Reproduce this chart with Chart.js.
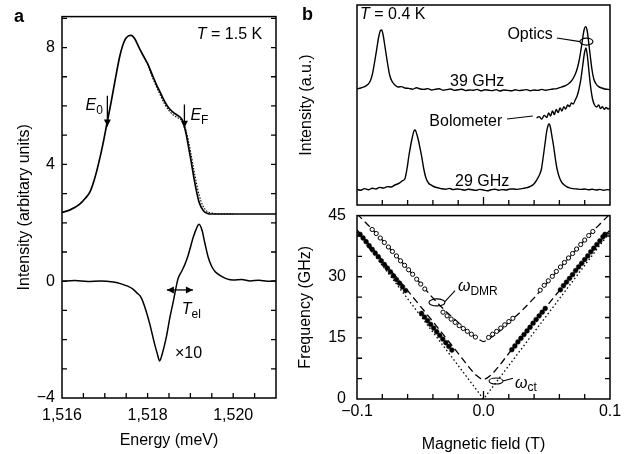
<!DOCTYPE html>
<html>
<head>
<meta charset="utf-8">
<script src="https://cdn.jsdelivr.net/npm/chart.js@4.4.1/dist/chart.umd.min.js"></script>
<style>
  body { margin: 0; background: #fff; }
  #wrap { position: relative; width: 635px; height: 454px; overflow: hidden; background: #fff; }
  canvas { position: absolute; }
</style>
</head>
<body>
<div id="wrap">
  <canvas id="panelA" width="290" height="454" style="left:0;top:0;width:290px;height:454px"></canvas>
  <canvas id="panelBtop" width="345" height="206" style="left:290px;top:0;width:345px;height:206px"></canvas>
  <canvas id="panelBbottom" width="345" height="259" style="left:290px;top:195px;width:345px;height:259px"></canvas>
</div>
<script>
// ---------- panel a : luminescence spectrum (upper) and x10 difference (lower) ----------
var plEnergy = [1516.0, 1516.2, 1516.4, 1516.55, 1516.65, 1516.75, 1516.85, 1516.95, 1517.05, 1517.15,
                1517.25, 1517.35, 1517.45, 1517.55, 1517.62, 1517.7, 1517.8, 1517.9, 1518.0, 1518.1,
                1518.2, 1518.3, 1518.4, 1518.5, 1518.6, 1518.7, 1518.8, 1518.85, 1518.9, 1518.95,
                1519.0, 1519.1, 1519.2, 1519.3, 1519.4, 1519.5, 1519.7, 1520.0, 1520.5, 1521.0];
var plSignal = [2.35, 2.45, 2.62, 2.85, 3.05, 3.45, 4.0, 4.65, 5.4, 6.15,
                6.95, 7.7, 8.2, 8.4, 8.42, 8.3, 8.0, 7.72, 7.45, 7.1,
                6.75, 6.45, 6.15, 5.92, 5.78, 5.68, 5.55, 5.35, 5.05, 4.65,
                4.25, 3.4, 2.72, 2.42, 2.32, 2.3, 2.3, 2.3, 2.3, 2.3];
// dotted fit (only visible where it leaves the measured curve)
var fitEnergy = [1517.9, 1518.0, 1518.1, 1518.2, 1518.3, 1518.4, 1518.5, 1518.6, 1518.7, 1518.8,
                 1518.85, 1518.9, 1518.95, 1519.0, 1519.1, 1519.2, 1519.3, 1519.4, 1519.5, 1519.7, 1520.0];
var fitSignal = [7.72, 7.42, 7.02, 6.68, 6.36, 6.06, 5.84, 5.69, 5.6, 5.5,
                 5.36, 5.14, 4.84, 4.47, 3.67, 2.97, 2.56, 2.38, 2.33, 2.3, 2.3];
var diffEnergy = [1516.0, 1516.3, 1516.6, 1516.9, 1517.2, 1517.4, 1517.55, 1517.65, 1517.75, 1517.85,
                  1517.95, 1518.05, 1518.16, 1518.23, 1518.28, 1518.34, 1518.44, 1518.52, 1518.6, 1518.71,
                  1518.8, 1518.87, 1518.95, 1519.07, 1519.14, 1519.2, 1519.27, 1519.34, 1519.42, 1519.49,
                  1519.58, 1519.69, 1519.85, 1520.0, 1520.2, 1520.4, 1520.6, 1520.8, 1521.0];
var diffSignal = [0, 0.02, -0.01, 0.01, -0.03, -0.1, -0.18, -0.26, -0.4, -0.56,
                  -0.95, -1.46, -2.13, -2.5, -2.73, -2.5, -1.9, -1.25, -0.7, 0.08,
                  0.35, 0.57, 0.9, 1.52, 1.8, 1.95, 1.75, 1.29, 0.8, 0.53,
                  0.32, 0.2, 0.08, 0.04, 0.06, 0.01, 0.03, 0, 0.01];
var energyTickValues = [1516, 1518, 1520];
var energyTickLabels = ['1,516', '1,518', '1,520'];
var intensityTickValues = [-4, 0, 4, 8];
var intensityTickLabels = ['\u22124', '0', '4', '8'];

// ---------- panel b top : resonance traces vs field ----------
var field39 = [-0.1, -0.097, -0.094, -0.0915, -0.0895, -0.0878, -0.0862, -0.0845, -0.083, -0.0815,
               -0.0805, -0.0795, -0.0782, -0.077, -0.0755, -0.074, -0.072, -0.07, -0.0675, -0.065,
               -0.062, -0.059, -0.056, -0.053, -0.05, -0.047, -0.044, -0.041, -0.038, -0.035,
               -0.032, -0.029, -0.026, -0.023, -0.02, -0.017, -0.014, -0.011, -0.008, -0.005,
               -0.002, 0.001, 0.004, 0.007, 0.01, 0.013, 0.016, 0.019, 0.022, 0.025,
               0.028, 0.031, 0.034, 0.037, 0.04, 0.043, 0.046, 0.049, 0.052, 0.055,
               0.058, 0.061, 0.064, 0.067, 0.0695, 0.0715, 0.0735, 0.0752, 0.0768, 0.0782,
               0.0795, 0.0808, 0.082, 0.0832, 0.0845, 0.0858, 0.0872, 0.089, 0.091, 0.0935,
               0.096, 0.0985, 0.1];
var signal39 = [5.80, 5.85, 5.92, 6.02, 6.20, 6.55, 7.10, 7.75, 8.35, 8.72,
                8.75, 8.55, 8.05, 7.55, 6.95, 6.45, 6.15, 6.00, 5.90, 5.92,
                5.85, 5.83, 5.79, 5.86, 5.80, 5.78, 5.82, 5.75, 5.79, 5.81,
                5.74, 5.77, 5.80, 5.73, 5.76, 5.79, 5.72, 5.75, 5.74, 5.78,
                5.71, 5.76, 5.74, 5.72, 5.77, 5.70, 5.75, 5.73, 5.71, 5.76,
                5.72, 5.74, 5.77, 5.71, 5.75, 5.73, 5.78, 5.74, 5.77, 5.80,
                5.82, 5.88, 5.95, 6.05, 6.20, 6.40, 6.70, 7.10, 7.65, 8.25,
                8.75, 8.92, 8.70, 8.10, 7.40, 6.75, 6.30, 6.05, 5.92, 5.85,
                5.80, 5.78, 5.76];
var fieldBolo = [0.042, 0.044, 0.046, 0.048, 0.05, 0.0515, 0.053, 0.0545, 0.056, 0.0575,
                 0.059, 0.0605, 0.062, 0.0635, 0.065, 0.0665, 0.068, 0.0695, 0.071, 0.0725,
                 0.074, 0.0755, 0.077, 0.0785, 0.0798, 0.081, 0.0822, 0.0835, 0.0848, 0.0862,
                 0.0878, 0.0895, 0.091, 0.0925, 0.094, 0.0955, 0.097, 0.0985, 0.1];
var signalBolo = [4.35, 4.42, 4.30, 4.48, 4.38, 4.60, 4.45, 4.70, 4.52, 4.78,
                  4.62, 4.85, 4.70, 4.92, 4.80, 5.00, 4.92, 5.10, 5.05, 5.25,
                  5.45, 5.80, 6.30, 7.00, 7.60, 7.85, 7.40, 6.60, 5.85, 5.30,
                  5.00, 4.90, 5.00, 4.82, 4.92, 4.78, 4.88, 4.80, 4.86];
var field29 = [-0.1, -0.097, -0.094, -0.091, -0.088, -0.085, -0.082, -0.079, -0.076, -0.073,
               -0.07, -0.068, -0.066, -0.064, -0.0622, -0.0605, -0.059, -0.0575, -0.0562, -0.055,
               -0.054, -0.0528, -0.0515, -0.0502, -0.0488, -0.0472, -0.0455, -0.0435, -0.041, -0.0385,
               -0.036, -0.033, -0.03, -0.027, -0.024, -0.021, -0.018, -0.015, -0.012, -0.009,
               -0.006, -0.003, 0, 0.003, 0.006, 0.009, 0.012, 0.015, 0.018, 0.021,
               0.024, 0.027, 0.03, 0.033, 0.036, 0.0385, 0.0405, 0.0425, 0.0442, 0.0458,
               0.0472, 0.0487, 0.05, 0.0512, 0.052, 0.053, 0.0542, 0.0554, 0.0566, 0.058,
               0.0596, 0.0614, 0.0634, 0.0656, 0.068, 0.071, 0.074, 0.077, 0.08, 0.083,
               0.086, 0.089, 0.092, 0.095, 0.098, 0.1];
var signal29 = [0.78, 0.74, 0.82, 0.76, 0.84, 0.80, 0.88, 0.85, 0.92, 0.90,
                1.00, 1.05, 1.12, 1.22, 1.30, 1.80, 2.45, 3.00, 3.40, 3.70,
                3.75, 3.55, 3.25, 2.85, 2.40, 1.80, 1.35, 1.10, 0.98, 0.90,
                0.86, 0.81, 0.79, 0.83, 0.77, 0.80, 0.78, 0.74, 0.79, 0.76,
                0.73, 0.78, 0.75, 0.71, 0.76, 0.79, 0.74, 0.77, 0.75, 0.80,
                0.80, 0.78, 0.82, 0.85, 0.90, 0.98, 1.10, 1.30, 1.50, 1.80,
                2.40, 3.10, 3.70, 4.00, 4.05, 3.85, 3.40, 2.95, 2.40, 1.85,
                1.45, 1.18, 1.02, 0.92, 0.86, 0.82, 0.80, 0.78, 0.80, 0.76,
                0.79, 0.75, 0.78, 0.74, 0.77, 0.75];

// ---------- panel b bottom : resonance frequency vs field ----------
var dmrField = [-0.088, -0.0848, -0.0816, -0.0784, -0.0752, -0.072, -0.0688, -0.0656, -0.0624, -0.0592,
                -0.056, -0.0528, -0.0496, -0.0464,
                -0.032, -0.0288, -0.0256, -0.0224, -0.0192, -0.016, -0.0128, -0.0096, -0.0064,
                0.004, 0.0072, 0.0104, 0.0136, 0.0168, 0.02, 0.0232,
                0.0448, 0.048, 0.0512, 0.0544, 0.0576, 0.0608, 0.064, 0.0672, 0.0704, 0.0736,
                0.0768, 0.08, 0.0832, 0.0864];
var dmrFreq = [41.6, 40.6, 39.5, 38.4, 37.3, 36.2, 35.1, 33.9, 32.8, 31.7,
               30.6, 29.4, 28.2, 27.0,
               21.3, 20.4, 19.6, 18.8, 18.0, 17.3, 16.6, 15.9, 15.2,
               15.1, 15.9, 16.6, 17.4, 18.2, 19.0, 19.8,
               26.7, 27.9, 29.0, 30.1, 31.3, 32.4, 33.5, 34.6, 35.7, 36.8,
               37.9, 39.0, 40.1, 41.1];
var ctField = [-0.0976, -0.0952, -0.0928, -0.0904, -0.088, -0.0856, -0.0832, -0.0808, -0.0784, -0.076,
               -0.0736, -0.0712, -0.0688, -0.0664, -0.064, -0.0616,
               -0.049, -0.0466, -0.0442, -0.0418, -0.0394, -0.037, -0.0346, -0.0322, -0.0298, -0.0274, -0.025,
               0.0224, 0.0248, 0.0272, 0.0296, 0.032, 0.0344, 0.0368, 0.0392, 0.0416, 0.044, 0.0464, 0.0488,
               0.0608, 0.0632, 0.0656, 0.068, 0.0704, 0.0728, 0.0752, 0.0776, 0.08, 0.0824,
               0.0848, 0.0872, 0.0896, 0.092, 0.0944, 0.096];
var ctFreq = [40.4, 39.5, 38.6, 37.6, 36.7, 35.8, 34.9, 33.9, 33.0, 32.1,
              31.2, 30.2, 29.3, 28.4, 27.5, 26.6,
              21.0, 20.1, 19.2, 18.3, 17.4, 16.5, 15.6, 14.7, 13.8, 12.9, 12.0,
              12.1, 13.0, 14.0, 14.9, 15.8, 16.7, 17.6, 18.6, 19.5, 20.4, 21.3, 22.2,
              26.8, 27.8, 28.7, 29.6, 30.5, 31.5, 32.4, 33.3, 34.2, 35.1,
              36.1, 37.0, 37.9, 38.8, 39.8, 40.4];
var dmrFitField = [-0.1, -0.09, -0.08, -0.07, -0.06, -0.05, -0.04, -0.03, -0.02, -0.015, -0.01, -0.005, 0,
                   0.005, 0.01, 0.015, 0.02, 0.03, 0.04, 0.05, 0.06, 0.07, 0.08, 0.09, 0.1];
var dmrFitFreq = [45.4, 42.3, 39.0, 35.5, 32.0, 28.4, 24.8, 21.6, 18.8, 17.3, 16.0, 14.9, 14.1,
                  14.9, 16.0, 17.3, 18.8, 21.6, 24.8, 28.4, 32.0, 35.5, 39.0, 42.3, 45.4];
var ctFitField = [-0.1, -0.09, -0.08, -0.07, -0.06, -0.05, -0.04, -0.03, -0.02, -0.012, -0.006, 0,
                  0.006, 0.012, 0.02, 0.03, 0.04, 0.05, 0.06, 0.07, 0.08, 0.09, 0.1];
var ctFitFreq = [41.5, 37.8, 34.0, 30.3, 26.6, 22.8, 19.0, 15.1, 11.2, 8.0, 5.9, 4.8,
                 5.9, 8.0, 11.2, 15.1, 19.0, 22.8, 26.6, 30.3, 34.0, 37.8, 41.5];
var bareField = [-0.1, 0, 0.1];
var bareFreq = [41.0, 0, 41.0];
var fieldTickValues = [-0.1, 0, 0.1];
var fieldTickLabels = ['\u22120.1', '0.0', '0.1'];
var freqTickValues = [0, 15, 30, 45];
var freqTickLabels = ['0', '15', '30', '45'];

// ---------- helpers ----------
var FAMILY = 'Liberation Sans';
var font16 = { family: FAMILY, size: 16 };

function xy(xs, ys) {
    return xs.map(function (x, i) { return { x: x, y: ys[i] }; });
}

function pickLabel(values, labels) {
    return function (v) {
        var i = values.findIndex(function (t) { return Math.abs(t - v) < 1e-9; });
        return i < 0 ? '' : labels[i];
    };
}

function frame(chart) {
    var a = chart.chartArea, ctx = chart.ctx;
    ctx.lineWidth = 1.5;
    ctx.strokeStyle = '#000';
    ctx.strokeRect(a.left, a.top, a.right - a.left, a.bottom - a.top);
}

// inward tick marks, every step of the axis, placed through the scale
function tickMarks(chart, id, sides, len, zeroLen) {
    var ctx = chart.ctx, a = chart.chartArea, s = chart.scales[id];
    var step = s.options.ticks.stepSize;
    var n0 = Math.ceil(s.min / step - 1e-6), n1 = Math.floor(s.max / step + 1e-6);
    ctx.lineWidth = 1.3;
    ctx.strokeStyle = '#000';
    ctx.beginPath();
    for (var n = n0; n <= n1; n++) {
        var v = n * step;
        if (Math.abs(v - s.min) < 1e-9 || Math.abs(v - s.max) < 1e-9) continue;
        var p = s.getPixelForValue(v);
        var l = (zeroLen && n === 0) ? zeroLen : len;
        sides.forEach(function (side) {
            if (side === 'left') { ctx.moveTo(a.left, p); ctx.lineTo(a.left + l, p); }
            if (side === 'right') { ctx.moveTo(a.right, p); ctx.lineTo(a.right - l, p); }
            if (side === 'bottom') { ctx.moveTo(p, a.bottom); ctx.lineTo(p, a.bottom - l); }
        });
    }
    ctx.stroke();
}

function fontFor(st) {
    return (st.indexOf('i') >= 0 ? 'italic ' : '') + (st.indexOf('b') >= 0 ? 'bold ' : '') +
        (st.indexOf('s') >= 0 ? 12 : (st.indexOf('b') >= 0 ? 18 : 16)) + 'px "' + FAMILY + '"';
}

// text with italic / subscript parts
function rich(ctx, x, y, parts, align) {
    var w = 0;
    parts.forEach(function (p) { ctx.font = fontFor(p[1]); w += ctx.measureText(p[0]).width; });
    if (align === 'center') x -= w / 2;
    if (align === 'right') x -= w;
    ctx.textAlign = 'left';
    ctx.textBaseline = 'middle';
    ctx.fillStyle = '#000';
    parts.forEach(function (p) {
        ctx.font = fontFor(p[1]);
        ctx.fillText(p[0], x, p[1].indexOf('s') >= 0 ? y + 5 : y);
        x += ctx.measureText(p[0]).width;
    });
}

function head(ctx, x, y, dx, dy) {
    var n = Math.hypot(dx, dy), L = 7, W = 3.5;
    dx /= n; dy /= n;
    ctx.beginPath();
    ctx.moveTo(x, y);
    ctx.lineTo(x - dx * L - dy * W, y - dy * L + dx * W);
    ctx.lineTo(x - dx * L + dy * W, y - dy * L - dx * W);
    ctx.closePath();
    ctx.fill();
}

function arrow(ctx, x1, y1, x2, y2, both) {
    ctx.lineWidth = 1.3;
    ctx.strokeStyle = '#000';
    ctx.fillStyle = '#000';
    ctx.beginPath(); ctx.moveTo(x1, y1); ctx.lineTo(x2, y2); ctx.stroke();
    head(ctx, x2, y2, x2 - x1, y2 - y1);
    if (both) head(ctx, x1, y1, x1 - x2, y1 - y2);
}

function loop(ctx, cx, cy, rx, ry, x1, y1, x2, y2) {
    ctx.lineWidth = 1.1;
    ctx.strokeStyle = '#000';
    ctx.beginPath();
    ctx.ellipse(cx, cy, rx, ry, 0, 0, Math.PI * 2);
    ctx.moveTo(x1, y1);
    ctx.lineTo(x2, y2);
    ctx.stroke();
}

function lineSet(xs, ys, width, dash, straight) {
    var set = {
        data: xy(xs, ys), borderColor: '#000', borderWidth: width, borderDash: dash || [],
        pointRadius: 0, fill: false
    };
    if (straight) set.tension = 0;
    else set.cubicInterpolationMode = 'monotone';
    return set;
}

var baseOptions = {
    responsive: false,
    animation: false,
    events: [],
    plugins: { legend: { display: false }, tooltip: { enabled: false } }
};

function options(extra) {
    return Object.assign({}, baseOptions, extra);
}

// ---------- panel a ----------
var decoA = {
    id: 'decoA',
    afterDraw: function (chart) {
        var ctx = chart.ctx, sx = chart.scales.x, sy = chart.scales.y;
        function X(v) { return sx.getPixelForValue(v); }
        function Y(v) { return sy.getPixelForValue(v); }
        ctx.save();
        frame(chart);
        tickMarks(chart, 'y', ['left', 'right'], 5);
        tickMarks(chart, 'x', ['bottom'], 5);
        rich(ctx, X(1519.15), Y(8.46), [['T', 'i'], [' = 1.5 K', '']]);
        rich(ctx, X(1516.55), Y(6.0), [['E', 'i'], ['0', 's']]);
        arrow(ctx, X(1517.06), Y(6.35), X(1517.06), Y(5.3));
        rich(ctx, X(1519.0), Y(5.67), [['E', 'i'], ['F', 's']]);
        arrow(ctx, X(1518.86), Y(6.05), X(1518.86), Y(5.25));
        arrow(ctx, X(1518.45), Y(-0.3), X(1519.06), Y(-0.3), true);
        rich(ctx, X(1518.8), Y(-0.98), [['T', 'i'], ['el', 's']]);
        rich(ctx, X(1518.64), Y(-2.47), [['\u00d710', '']]);
        rich(ctx, 14, 17, [['a', 'b']]);
        ctx.restore();
    }
};

new Chart(document.getElementById('panelA'), {
    type: 'line',
    data: {
        datasets: [
            lineSet(plEnergy, plSignal, 1.7),
            lineSet(fitEnergy, fitSignal, 1.1, [1.5, 1.5]),
            lineSet(diffEnergy, diffSignal, 1.5)
        ]
    },
    options: options({
        layout: { padding: { left: 0, top: 5, right: 14, bottom: 0 } },
        scales: {
            x: {
                type: 'linear', min: 1516, max: 1521,
                grid: { display: false, drawTicks: false }, border: { display: false },
                ticks: { stepSize: 0.5, autoSkip: false, maxRotation: 0, padding: 8, color: '#000', font: font16,
                         callback: pickLabel(energyTickValues, energyTickLabels) },
                title: { display: true, text: 'Energy (meV)', color: '#000', font: font16, padding: { top: 0, bottom: 4 } },
                afterFit: function (s) { s.height = 56; }
            },
            y: {
                type: 'linear', min: -4, max: 9.06,
                grid: { display: false, drawTicks: false }, border: { display: false },
                ticks: { stepSize: 1, autoSkip: false, padding: 7, color: '#000', font: font16,
                         callback: pickLabel(intensityTickValues, intensityTickLabels) },
                title: { display: true, text: 'Intensity (arbitary units)', color: '#000', font: font16, padding: { top: 15, bottom: 0 } },
                afterFit: function (s) { s.width = 62; }
            }
        }
    }),
    plugins: [decoA]
});

// ---------- panel b, top ----------
var decoBtop = {
    id: 'decoBtop',
    afterDraw: function (chart) {
        var ctx = chart.ctx, sx = chart.scales.x, sy = chart.scales.y;
        function X(v) { return sx.getPixelForValue(v); }
        function Y(v) { return sy.getPixelForValue(v); }
        ctx.save();
        frame(chart);
        tickMarks(chart, 'x', ['bottom'], 5, 8);
        rich(ctx, X(-0.0976), Y(9.5), [['T', 'i'], [' = 0.4 K', '']]);
        rich(ctx, X(-0.005), Y(6.15), [['39 GHz', '']], 'center');
        rich(ctx, X(-0.001), Y(1.15), [['29 GHz', '']], 'center');
        rich(ctx, X(-0.014), Y(4.15), [['Bolometer', '']], 'center');
        rich(ctx, X(0.0368), Y(8.5), [['Optics', '']], 'center');
        loop(ctx, X(0.0814), Y(8.17), 6.5, 3.5, X(0.058), Y(8.35), X(0.0763), Y(8.17));
        ctx.lineWidth = 1.2;
        ctx.beginPath();
        ctx.moveTo(X(0.0186), Y(4.3));
        ctx.lineTo(X(0.039), Y(4.45));
        ctx.stroke();
        rich(ctx, 12, 15, [['b', 'b']]);
        ctx.restore();
    }
};

new Chart(document.getElementById('panelBtop'), {
    type: 'line',
    data: {
        datasets: [
            lineSet(field39, signal39, 1.4),
            lineSet(fieldBolo, signalBolo, 1.4),
            lineSet(field29, signal29, 1.4)
        ]
    },
    options: options({
        layout: { padding: { left: 0, top: 5, right: 25, bottom: 1 } },
        scales: {
            x: {
                type: 'linear', min: -0.1, max: 0.1,
                grid: { display: false, drawTicks: false }, border: { display: false },
                ticks: { stepSize: 0.02, autoSkip: false, display: false },
                afterFit: function (s) { s.height = 0; }
            },
            y: {
                type: 'linear', min: 0, max: 10,
                grid: { display: false, drawTicks: false }, border: { display: false },
                ticks: { display: false },
                title: { display: true, text: 'Intensity (a.u.)', color: '#000', font: font16, padding: { top: 7, bottom: 0 } },
                afterFit: function (s) { s.width = 67; }
            }
        }
    }),
    plugins: [decoBtop]
});

// ---------- panel b, bottom ----------
var decoBbottom = {
    id: 'decoBbottom',
    afterDraw: function (chart) {
        var ctx = chart.ctx, sx = chart.scales.x, sy = chart.scales.y;
        function X(v) { return sx.getPixelForValue(v); }
        function Y(v) { return sy.getPixelForValue(v); }
        ctx.save();
        frame(chart);
        tickMarks(chart, 'y', ['left', 'right'], 5);
        tickMarks(chart, 'x', ['bottom'], 5, 8);
        rich(ctx, X(-0.0202), Y(27.6), [['\u03c9', 'i'], ['DMR', 's']]);
        loop(ctx, X(-0.0368), Y(23.7), 8, 3.5, X(-0.0305), Y(23.9), X(-0.0225), Y(26.6));
        rich(ctx, X(0.0249), Y(3.9), [['\u03c9', 'i'], ['ct', 's']]);
        loop(ctx, X(0.0099), Y(4.4), 7, 3, X(0.0154), Y(4.4), X(0.0233), Y(5.1));
        ctx.restore();
    }
};

var dmrSet = {
    data: xy(dmrField, dmrFreq), showLine: false, pointStyle: 'circle', pointRadius: 2.1,
    pointBackgroundColor: '#fff', pointBorderColor: '#000', pointBorderWidth: 1
};
var ctSet = {
    data: xy(ctField, ctFreq), showLine: false, pointStyle: 'circle', pointRadius: 2.4,
    pointBackgroundColor: '#000', pointBorderColor: '#000', pointBorderWidth: 0.5
};

new Chart(document.getElementById('panelBbottom'), {
    type: 'line',
    data: {
        datasets: [
            dmrSet,
            ctSet,
            lineSet(dmrFitField, dmrFitFreq, 1.3, [7, 4]),
            lineSet(ctFitField, ctFitFreq, 1.3, [7, 4]),
            lineSet(bareField, bareFreq, 1.3, [1.5, 2.5], true)
        ]
    },
    options: options({
        layout: { padding: { left: 0, top: 10, right: 25, bottom: 0 } },
        scales: {
            x: {
                type: 'linear', min: -0.1, max: 0.1,
                grid: { display: false, drawTicks: false }, border: { display: false },
                ticks: { stepSize: 0.02, autoSkip: false, maxRotation: 0, padding: 3, color: '#000', font: font16,
                         callback: pickLabel(fieldTickValues, fieldTickLabels) },
                title: { display: true, text: 'Magnetic field (T)', color: '#000', font: font16, padding: { top: 0, bottom: 0 } },
                afterFit: function (s) { s.height = 55; }
            },
            y: {
                type: 'linear', min: 0, max: 45,
                grid: { display: false, drawTicks: false }, border: { display: false },
                ticks: { stepSize: 5, autoSkip: false, padding: 11, color: '#000', font: font16,
                         callback: pickLabel(freqTickValues, freqTickLabels) },
                title: { display: true, text: 'Frequency (GHz)', color: '#000', font: font16, padding: { top: 6, bottom: 0 } },
                afterFit: function (s) { s.width = 67; }
            }
        }
    }),
    plugins: [decoBbottom]
});
</script>
</body>
</html>
